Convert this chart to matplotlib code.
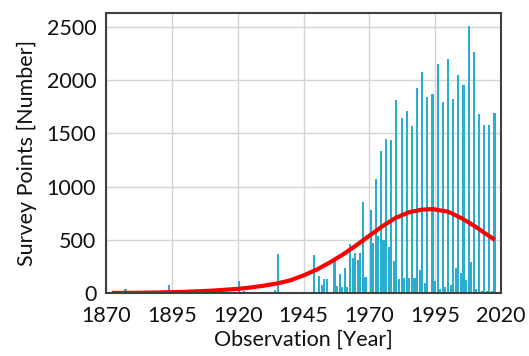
import numpy as np
import matplotlib
matplotlib.use("Agg")
import matplotlib.pyplot as plt

plt.rcParams['font.family'] = ['Lato', 'DejaVu Sans']

# Histogram of observation years: bins spanning the observed period
first_year, last_year, n_bins = 1873, 2018, 148

# Non-empty bins (bin index -> number of survey points)
bin_index = [4, 21, 48, 50, 53, 62, 63,
             77, 79, 80, 81, 82, 85, 86, 87, 88, 89, 90, 91, 92, 93, 94, 95, 96, 97,
             99, 100, 101, 102, 103, 104, 105, 106, 107, 108, 109, 110, 111, 112, 113,
             114, 115, 116, 117, 118, 119, 120, 121, 123, 124, 125, 126, 127, 128, 129,
             130, 131, 132, 133, 134, 135, 136, 137, 138, 139, 140, 141, 142, 143, 144,
             145, 146, 147]
bin_count = [40, 80, 115, 25, 15, 30, 368,
             356, 162, 75, 131, 131, 334, 69, 178, 63, 241, 63, 463, 328, 381, 313, 381, 853, 156,
             778, 470, 1071, 540, 1334, 500, 1447, 437, 1437, 300, 1812, 130, 1647, 140, 1709,
             140, 1568, 140, 1922, 218, 2072, 95, 1843, 1868, 120, 2147, 45, 1790, 60, 2194,
             80, 1819, 234, 2047, 187, 1953, 125, 2506, 296, 2259, 40, 1681, 20, 1575, 20,
             1575, 25, 1694]

# Fitted distribution curve
fit_years = [1873, 1880, 1890, 1900, 1910, 1920, 1925, 1930, 1935, 1940, 1945, 1950,
             1955, 1960, 1965, 1970, 1975, 1980, 1985, 1990, 1994, 2000, 2005, 2010,
             2015, 2017]
fit_values = [4, 5, 8, 14, 25, 42, 55, 72, 93, 122, 168, 222,
              290, 365, 450, 540, 630, 708, 760, 785, 790, 765, 705, 630,
              545, 512]

x_ticks = [1870, 1895, 1920, 1945, 1970, 1995, 2020]
y_ticks = [0, 500, 1000, 1500, 2000, 2500]

counts = np.zeros(n_bins)
counts[bin_index] = bin_count
edges = np.linspace(first_year, last_year, n_bins + 1)
centers = (edges[:-1] + edges[1:]) / 2
bw = edges[1] - edges[0]

fig = plt.figure(figsize=(5.29, 3.56), dpi=100)
ax = fig.add_axes([0.2004, 0.176, 0.7467, 0.7865])

ax.bar(centers, counts, width=0.82 * bw, color='#2aadce', linewidth=0, zorder=2)
ax.plot(fit_years, fit_values, color='#ff0000', lw=3, zorder=3)

ax.set_xlim(1870, 2020)
ax.set_ylim(0, 2625)
ax.set_xticks(x_ticks)
ax.set_yticks(y_ticks)
ax.grid(True, color='#d4d4d4', lw=1, zorder=0)
ax.set_axisbelow(True)
ax.tick_params(length=0, labelsize=15.5, colors='#111111')
ax.tick_params(axis='x', pad=9)
ax.tick_params(axis='y', pad=7)
for s in ax.spines.values():
    s.set_color('#404040')
    s.set_linewidth(1.5)
    s.set_zorder(4)

ax.set_xlabel('Observation [Year]', fontsize=15.5, color='#111111', labelpad=3)
ax.set_ylabel('Survey Points [Number]', fontsize=15.5, color='#111111', labelpad=7)

fig.savefig('out.png', dpi=100)
